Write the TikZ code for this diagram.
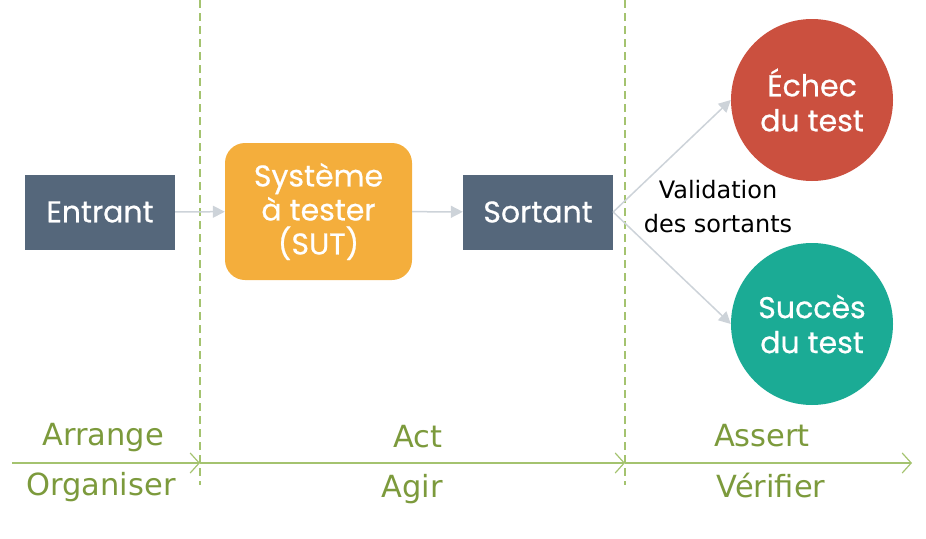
\documentclass[tikz,border=0pt]{standalone}
\usepackage{fontspec}
\setmainfont{DejaVu Sans}
\newfontfamily\boxfont[FakeBold=0.6]{Poppins}
\usetikzlibrary{arrows.meta}
\definecolor{slate}{HTML}{55677B}
\definecolor{sutorange}{HTML}{F4AE3C}
\definecolor{failred}{HTML}{CB503F}
\definecolor{passteal}{HTML}{1BAB95}
\definecolor{phaseline}{HTML}{A4C36F}
\definecolor{phasetext}{HTML}{7C9A3C}
\definecolor{flowgray}{HTML}{CDD3D9}

\begin{document}
\begin{tikzpicture}[x=1pt,y=-1pt,
	every node/.style = {align=center, inner sep=0pt},
	box/.style = {fill=slate, text=white, minimum width=150pt, minimum height=75pt, font=\boxfont\fontsize{30}{34}\selectfont},
	sut/.style = {fill=sutorange, text=white, rounded corners=20pt, minimum width=187pt, minimum height=137pt, font=\boxfont\fontsize{30}{34}\selectfont},
	result/.style = {circle, text=white, minimum size=162pt, font=\boxfont\fontsize{30}{35}\selectfont},
	flow/.style = {draw=flowgray, line width=1.5pt, -{Triangle[length=12pt,width=12pt,fill=flowgray]}},
	phase/.style = {draw=phaseline, line width=1.8pt, -{Straight Barb[length=9pt,width=20pt,line width=1.2pt]}},
	border/.style = {draw=phaseline, line width=1.3pt, dash pattern=on 8pt off 5pt},
	label/.style = {text=phasetext, font=\fontsize{30.5}{34}\selectfont}]
		\useasboundingbox (0,0) rectangle (926,538);
		% phase borders
		\draw[border] (200,0) -- (200,485);
		\draw[border] (625,0) -- (625,485);
		% nodes
		\node[box] (entrant) at (100,212) {Entrant};
		\node[sut] (sut) at (318.5,211.5) {Système\\à tester\\(SUT)};
		\node[box] (sortant) at (538,212) {Sortant};
		\node[result, fill=failred] (echec) at (812,100) {Échec\\du test};
		\node[result, fill=passteal] (succes) at (812,324) {Succès\\du test};
		\node[font=\fontsize{24}{34}\selectfont] (validation) at (718,207) {Validation\\des sortants};
		% flow
		\draw[flow] (entrant) -- (sut);
		\draw[flow] (sut) -- (sortant);
		\draw[flow] (sortant.east) -- (echec.west);
		\draw[flow] (sortant.east) -- (succes.west);
		% phases
		\coordinate (p0) at (12,463);
		\coordinate (p1) at (200,463);
		\coordinate (p2) at (625,463);
		\coordinate (p3) at (912,463);
		\draw[phase] (p0) -- (p1);
		\draw[phase] (p1) -- (p2);
		\draw[phase] (p2) -- (p3);
		\node[label] (arrange) at (103,438) {Arrange};
		\node[label] (organiser) at (101,487) {Organiser};
		\node[label] (act) at (418,437) {Act};
		\node[label] (agir) at (412,489) {Agir};
		\node[label] (assert) at (762,436) {Assert};
		\node[label] (verifier) at (771,486) {Vérifier};
\end{tikzpicture}
\end{document}
